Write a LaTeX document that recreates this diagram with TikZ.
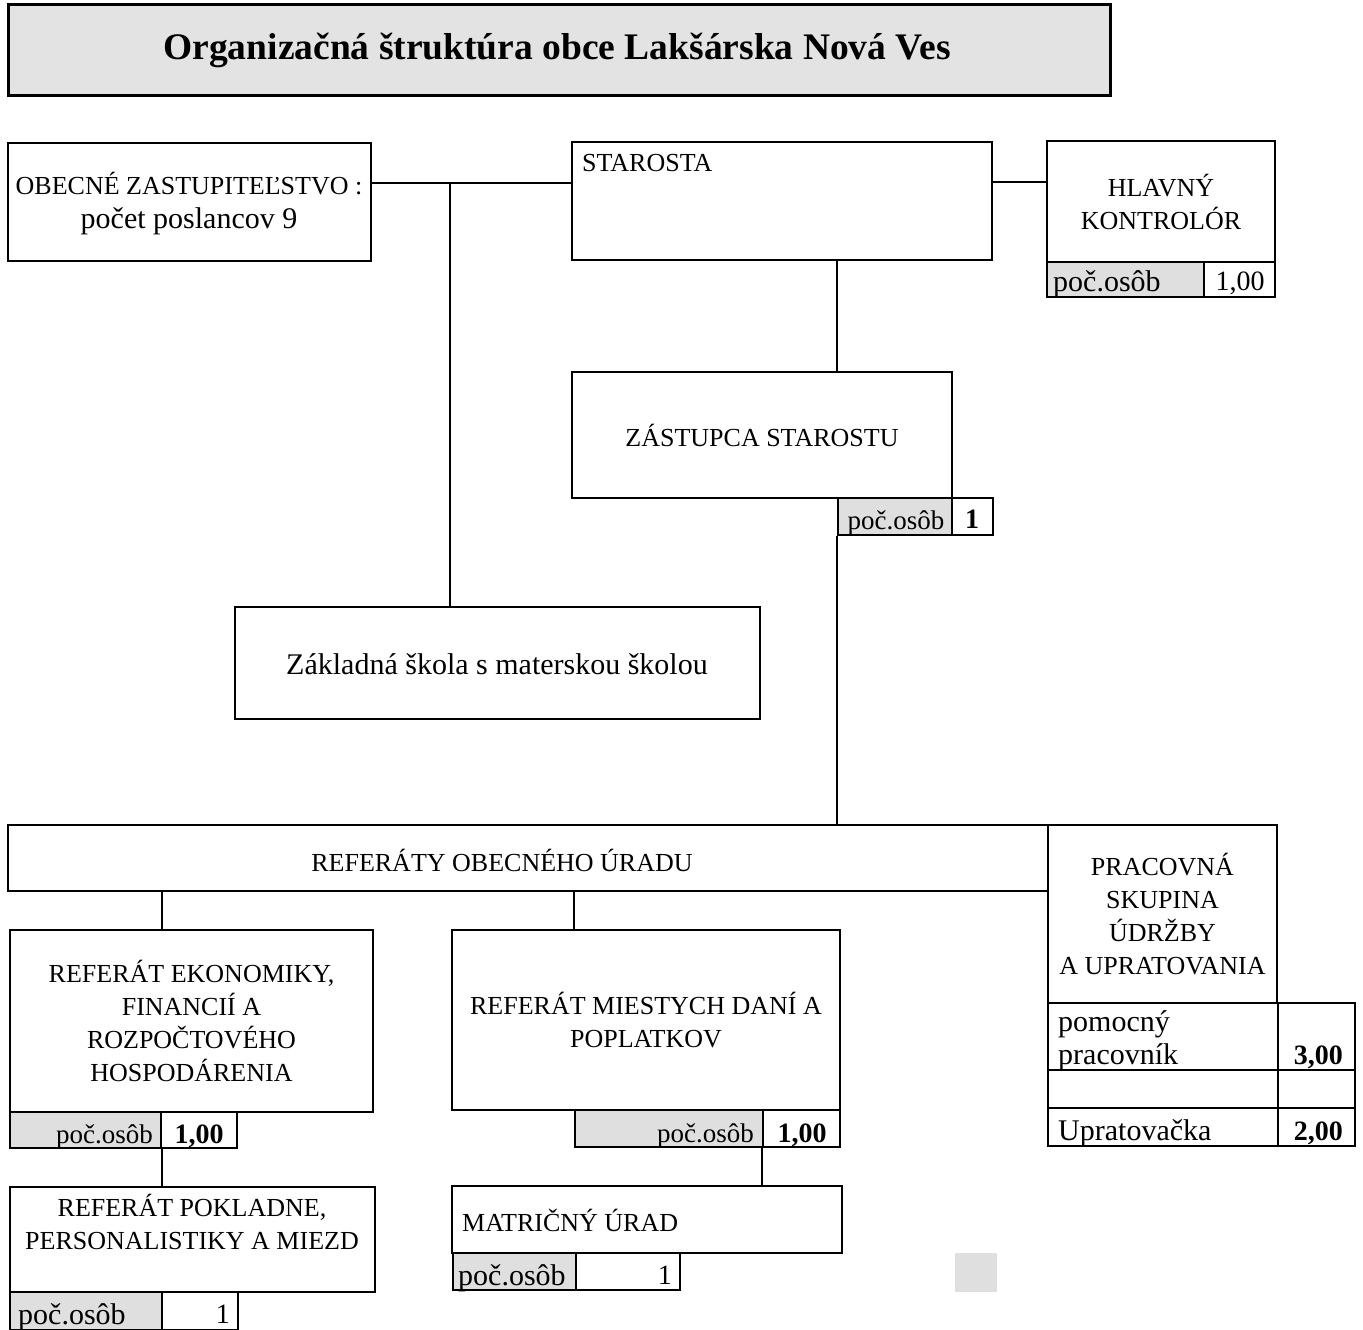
\documentclass[tikz,border=0pt]{standalone}
\usepackage{fontspec}
\setmainfont{Liberation Serif}
\newcommand\bx[7]{\node[#6, minimum width={(#4-#2)*1pt}, minimum height={(#5-#3)*1pt}] (#1) at ({(#2+#4)/2},{(#3+#5)/2}) {#7};}
\newcommand\lc{\fontsize{30}{33}\selectfont}
\newcommand\lcs{\fontsize{27}{33}\selectfont}
\tikzset{
  box/.style={draw, line width=1.5pt, inner sep=0pt, font=\fontsize{26}{33}\selectfont, align=center},
  gcell/.style={box, fill=gray!25},
  txt/.style={inner sep=0pt, font=\fontsize{26}{33}\selectfont, align=center},
  lctxt/.style={inner sep=0pt, font=\lc, align=left},
  lcstxt/.style={inner sep=0pt, font=\lcs, align=left},
  num/.style={inner sep=0pt, font=\fontsize{28}{33}\selectfont},
  bnum/.style={inner sep=0pt, font=\fontsize{28}{33}\selectfont\bfseries},
  conn/.style={line width=1.6pt},
}
\begin{document}
\begin{tikzpicture}[x=1pt,y=-1pt]
\useasboundingbox (0,0) rectangle (1363,1330);
% title
\bx{title}{8}{5}{1110}{95}{box, fill=gray!22, line width=3pt}{}
\node[inner sep=0pt, font=\fontsize{37.5}{40}\selectfont\bfseries] (ttl) at (557,50) {Organizačná štruktúra obce Lakšárska Nová Ves};
% top row
\bx{obec}{8}{143}{371}{261}{box}{}
\node[txt] (obect) at (189,184) {OBECNÉ ZASTUPITEĽSTVO :};
\node[lctxt, anchor=base] (obect2) at (189,228) {počet poslancov 9};
\bx{star}{572}{142}{992}{260}{box}{}
\node[txt, anchor=west] (startxt) at (582,163) {STAROSTA};
\bx{hk}{1047}{141}{1275}{262}{box}{HLAVNÝ\\KONTROLÓR}
\bx{hkg}{1047}{262}{1204}{297}{gcell}{}
\node[lctxt, anchor=base west] (hkgt) at (1053,291) {poč.osôb};
\bx{hkv}{1204}{262}{1275}{297}{box}{}
\node[num, anchor=base] (hkvt) at (1240,290) {1,00};
% zastupca
\bx{zast}{572}{372}{952}{498}{box}{ZÁSTUPCA STAROSTU}
\bx{zastg}{838}{498}{952}{535}{gcell}{}
\node[lcstxt, anchor=base] (zastgt) at (896,529) {poč.osôb};
\bx{zastv}{952}{498}{993}{535}{box}{}
\node[bnum, anchor=base] (zastvt) at (972,528) {1};
% skola
\bx{zs}{235}{607}{760}{719}{box}{}
\node[lctxt, anchor=base] (zst) at (497,674) {Základná škola s materskou školou};
% referaty
\bx{ref}{8}{825}{1048}{891}{box}{}
\node[txt] (reftxt) at (502,860) {REFERÁTY OBECNÉHO ÚRADU};
\bx{prac}{1048}{825}{1277}{1003}{box}{PRACOVNÁ\\SKUPINA\\ÚDRŽBY\\A UPRATOVANIA}
\bx{p1}{1048}{1003}{1278}{1070}{box}{}
\node[lctxt, anchor=base west] (p1t) at (1058,1031) {pomocný};
\node[lctxt, anchor=base west] (p1t2) at (1058,1064) {pracovník};
\bx{p1v}{1278}{1003}{1355}{1070}{box}{}
\node[bnum, anchor=base east] (p1vt) at (1343,1064) {3,00};
\bx{p2}{1048}{1070}{1278}{1108}{box}{}
\bx{p2v}{1278}{1070}{1355}{1108}{box}{}
\bx{p3}{1048}{1108}{1278}{1146}{box}{}
\node[lctxt, anchor=base west] (p3t) at (1058,1140) {Upratovačka};
\bx{p3v}{1278}{1108}{1355}{1146}{box}{}
\node[bnum, anchor=base east] (p3vt) at (1343,1140) {2,00};
% ekonomika
\bx{eko}{10}{930}{373}{1112}{box}{REFERÁT EKONOMIKY,\\FINANCIÍ A\\ROZPOČTOVÉHO\\HOSPODÁRENIA}
\bx{ekog}{10}{1112}{161}{1148}{gcell}{}
\node[lcstxt, anchor=base east] (ekogt) at (153,1143) {poč.osôb};
\bx{ekov}{161}{1112}{237}{1148}{box}{}
\node[bnum, anchor=base] (ekovt) at (199,1143) {1,00};
% pokladna
\bx{pok}{10}{1187}{375}{1292}{box}{}
\node[txt] (poktxt) at (192,1222) {REFERÁT POKLADNE,\\PERSONALISTIKY A MIEZD};
\bx{pokg}{10}{1292}{162}{1330}{gcell}{}
\node[lctxt, anchor=base west] (pokgt) at (18,1324) {poč.osôb};
\bx{pokv}{162}{1292}{238}{1330}{box}{}
\node[num, anchor=base east] (pokvt) at (230,1323) {1};
% miestne dane
\bx{mdp}{452}{930}{840}{1110}{box}{REFERÁT MIESTYCH DANÍ A\\POPLATKOV}
\bx{mdpg}{575}{1110}{763}{1147}{gcell}{}
\node[lcstxt, anchor=base east] (mdpgt) at (754,1142) {poč.osôb};
\bx{mdpv}{763}{1110}{840}{1147}{box}{}
\node[bnum, anchor=base] (mdpvt) at (802,1142) {1,00};
% matricny urad
\bx{mat}{452}{1186}{842}{1253}{box}{}
\node[txt, anchor=west] (mattxt) at (462,1220) {MATRIČNÝ ÚRAD};
\bx{matg}{453}{1253}{576}{1290}{gcell}{}
\node[lctxt, anchor=base west] (matgt) at (458,1285) {poč.osôb};
\bx{matv}{576}{1253}{680}{1290}{box}{}
\node[num, anchor=base east] (matvt) at (672,1284) {1};
% small grey square
\fill[gray!25] (955,1253) rectangle (997,1292);
% connectors
\coordinate (j1) at (450,183);
\draw[conn] (obec.east |- j1) -- (star.west |- j1);
\draw[conn] (j1) -- (zs.north -| j1);
\coordinate (j2) at (1020,182);
\draw[conn] (star.east |- j2) -- (hk.west |- j2);
\draw[conn] (star.south -| zastg.west) -- (zast.north -| zastg.west);
\draw[conn] (zastg.south west) -- (ref.north -| zastg.south west);
\draw[conn] (ekog.east |- ref.south) -- (ekog.east |- eko.north);
\draw[conn] (mdpg.west |- ref.south) -- (mdpg.west |- mdp.north);
\draw[conn] (ekog.south east) -- (ekog.south east |- pok.north);
\draw[conn] (mdpv.south west) -- (mdpv.south west |- mat.north);
\end{tikzpicture}
\end{document}
